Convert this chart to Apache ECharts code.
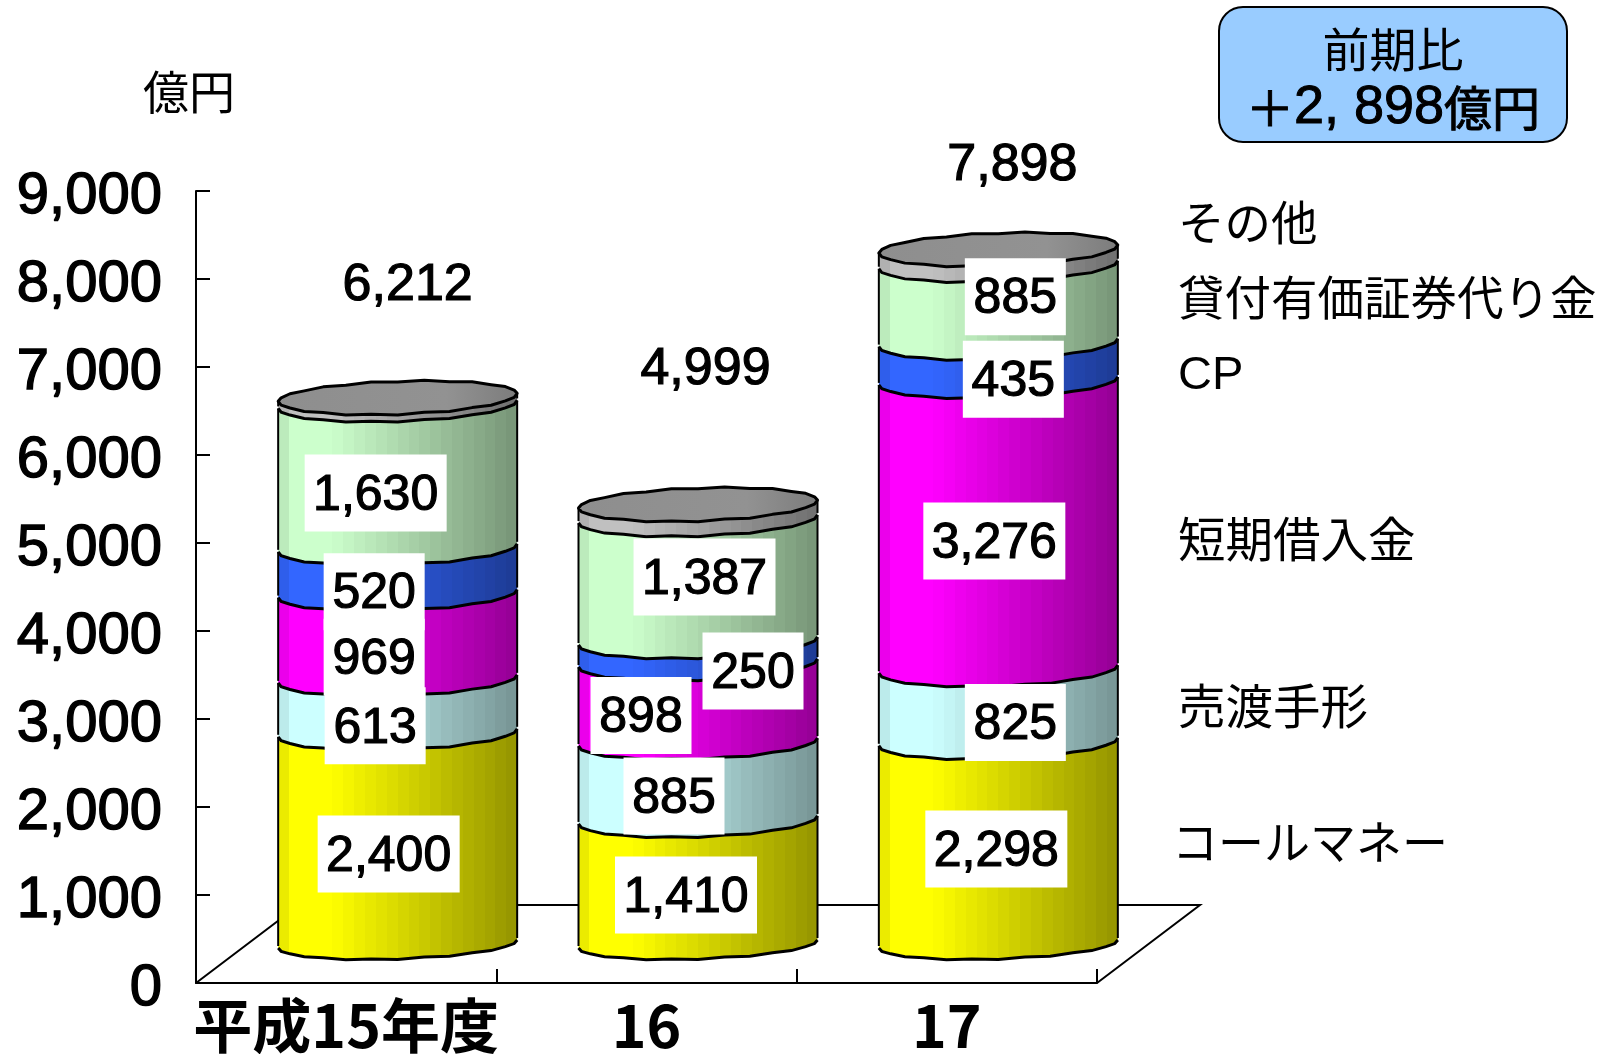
<!DOCTYPE html>
<html>
<head>
<meta charset="utf-8">
<style>html,body{margin:0;padding:0;background:#fff}#c{width:1607px;height:1054px}</style>
<script src="https://cdn.jsdelivr.net/npm/echarts@6/dist/echarts.min.js"></script>
</head>
<body>
<div id="c"></div>
<script>
// ---- data ----
const categories = ['平成15年度', '16', '17'];
const valueTicks = ['0', '1,000', '2,000', '3,000', '4,000', '5,000', '6,000', '7,000', '8,000', '9,000'];
const seriesNames = ['コールマネー', '売渡手形', '短期借入金', 'CP', '貸付有価証券代り金', 'その他'];
const callMoney = [2400, 1410, 2298];
const billsSold = [613, 885, 825];
const shortLoans = [969, 898, 3276];
const commercialPaper = [520, 250, 435];
const securitiesLent = [1630, 1387, 885];
const others = [80, 169, 179];
const totals = [6212, 4999, 7898];
const unitLabel = '億円';
const calloutTitle = '前期比';
const calloutSign = '＋';
const calloutAmount = '2, 898';
const calloutUnit = '億円';

// ---- layout & style (not data) ----
const layers = [callMoney, billsSold, shortLoans, commercialPaper, securitiesLent, others];
const layerColors = [[255,255,0],[204,255,255],[255,0,255],[51,102,255],[204,255,204],[192,192,192]];
const GRID = {left:196, top:191, width:901, height:792, outerBoundsMode: 'none'};
const DEPTH_X = 51.5, DEPTH_Y = -39, RADIUS = 119.5, RIM_H = 17, RIM_TILT = 4;
const SANS = '"Liberation Sans",Arial,sans-serif';
const CJK = '"Noto Sans CJK JP",sans-serif';
// label shift from the middle of each segment, per [layer][category]
const labelShift = [
  [[-9,15.6],[-12,13],[-2,6]],
  [[-22.5,20],[-24,15],[17,17]],
  [[-23.5,21],[-57,13],[-4,16]],
  [[-23.5,21],[55,19],[15,17.5]],
  [[-22,17],[6.5,-3],[17,-7]]
];
const totalShift = [[10,-112],[7.5,-134],[14,-83]];
const legendY = [842, 706, 539, 376, 297, 222];
const legendX = [1172, 1178, 1178, 1178, 1178, 1178];
const legendFont = [
  '46px ' + CJK, '47.5px ' + CJK, '47.5px ' + CJK, '47px ' + SANS, '46.5px ' + CJK, '46.5px ' + CJK
];

const RIM_STEPS = 14;
function rimPoint(cx, cy, th, side, squash){
  const ripple = 1 + 0.04 * (Math.round(th / Math.PI * RIM_STEPS) % 2 ? 1 : -1) * (side > 0 ? 1 : -1);
  const t = -Math.cos(th);
  return [cx + RADIUS * t, cy + side * RIM_H * squash * Math.sin(th) * ripple - RIM_TILT * t];
}
function frontArc(cx, cy, squash){
  const p = [];
  for (let i = 0; i <= RIM_STEPS; i++) p.push(rimPoint(cx, cy, Math.PI * i / RIM_STEPS, 1, squash || 1));
  return p;
}
function backArc(cx, cy){
  const p = [];
  for (let i = RIM_STEPS; i >= 0; i--) p.push(rimPoint(cx, cy, Math.PI * i / RIM_STEPS, -1, 0.94));
  return p;
}
function shade(u){
  if (u < 0.05) return 0.92;
  if (u < 0.22) return 1;
  return 1 - 0.42 * (u - 0.22) / 0.78;
}
function facetGradient(rgb){
  const n = 22, stops = [];
  for (let i = 0; i < n; i++){
    const f = shade((i + 0.5) / n);
    const col = 'rgb(' + rgb.map(c => Math.round(c * f)).join(',') + ')';
    stops.push({offset: i / n, color: col}, {offset: (i + 1) / n, color: col});
  }
  return new echarts.graphic.LinearGradient(0, 0, 1, 0, stops);
}
function stackStart(layer, cat){
  let s = 0;
  for (let i = 0; i < layer; i++) s += layers[i][cat];
  return s;
}

const series = [];
// floor
series.push({
  type: 'custom', coordinateSystem: 'cartesian2d', silent: true, z: 1,
  data: [[0, 0]],
  renderItem(params){
    const cs = params.coordSys;
    const x0 = cs.x, x1 = cs.x + cs.width, y = cs.y + cs.height;
    return {type: 'polyline', shape: {points: [[x0, y], [x0 + 2 * DEPTH_X, y + 2 * DEPTH_Y], [x1 + 2 * DEPTH_X, y + 2 * DEPTH_Y], [x1, y]]},
      style: {fill: 'none', stroke: '#000', lineWidth: 2}};
  }
});
// cylinder layers
layers.forEach((values, li) => {
  series.push({
    type: 'custom', name: seriesNames[li], coordinateSystem: 'cartesian2d', silent: true, z: 2 + li,
    data: values.map((v, c) => [c, stackStart(li, c), stackStart(li, c) + v]),
    encode: {x: 0, y: [1, 2]},
    renderItem(params, api){
      const c = api.value(0);
      const a = api.coord([c, api.value(1)]);
      const b = api.coord([c, api.value(2)]);
      const cx = a[0] + DEPTH_X, ya = a[1] + DEPTH_Y, yb = b[1] + DEPTH_Y;
      const lower = frontArc(cx, ya, li === 0 ? 0.88 : 1), upper = frontArc(cx, yb);
      const children = [
        {type: 'polygon', shape: {points: upper.concat(lower.slice().reverse())},
          style: {fill: facetGradient(layerColors[li]), stroke: null}},
        {type: 'polyline', shape: {points: lower}, style: {fill: 'none', stroke: '#000', lineWidth: 3}},
        {type: 'line', shape: {x1: cx - RADIUS, y1: lower[0][1] - 2, x2: cx - RADIUS, y2: upper[0][1]}, style: {stroke: '#000', lineWidth: 2}},
        {type: 'line', shape: {x1: cx + RADIUS, y1: lower[RIM_STEPS][1] - 2, x2: cx + RADIUS, y2: upper[RIM_STEPS][1]}, style: {stroke: '#000', lineWidth: 2}}
      ];
      if (li === layers.length - 1){
        const cap = upper.concat(backArc(cx, yb));
        children.push({type: 'polygon', shape: {points: cap},
          style: {fill: new echarts.graphic.LinearGradient(0, 0, 1, 0, [{offset: 0, color: '#8e8e8e'}, {offset: 0.7, color: '#929292'}, {offset: 1, color: '#7c7c7c'}]),
            stroke: '#000', lineWidth: 3, lineJoin: 'round'}});
      }
      return {type: 'group', children};
    }
  });
});
// value labels with white boxes, on top of all cylinders
layers.slice(0, 5).forEach((values, li) => {
  series.push({
    type: 'custom', coordinateSystem: 'cartesian2d', silent: true, z: 20,
    data: values.map((v, c) => [c, stackStart(li, c) + v / 2, v]),
    encode: {x: 0, y: 1},
    renderItem(params, api){
      const c = api.value(0), v = api.value(2);
      const m = api.coord([c, api.value(1)]);
      const s = labelShift[li][c];
      const x = m[0] + DEPTH_X + s[0], y = m[1] + DEPTH_Y + s[1];
      const txt = v.toLocaleString('en-US');
      const w = txt.length > 3 ? 142 : 101, h = 77;
      return {type: 'group', children: [
        {type: 'rect', shape: {x: x - w / 2, y: y - h / 2, width: w, height: h}, style: {fill: '#fff'}},
        {type: 'text', style: {x, y: y + 3, text: txt, align: 'center', verticalAlign: 'middle', fill: '#000',
          font: '50px ' + SANS, stroke: '#000', lineWidth: 1.2}}
      ]};
    }
  });
});
// totals above each cylinder
series.push({
  type: 'custom', coordinateSystem: 'cartesian2d', silent: true, z: 21,
  data: totals.map((v, c) => [c, v]),
  encode: {x: 0, y: 1},
  renderItem(params, api){
    const c = api.value(0), v = api.value(1);
    const m = api.coord([c, v]);
    const s = totalShift[c];
    return {type: 'text', style: {x: m[0] + DEPTH_X + s[0], y: m[1] + DEPTH_Y + s[1], text: v.toLocaleString('en-US'),
      align: 'center', verticalAlign: 'middle', fill: '#000', font: '52px ' + SANS, stroke: '#000', lineWidth: 1.2}};
  }
});

const graphic = [
  {type: 'text', left: 143, top: 69, z: 30, style: {text: unitLabel, font: '46px ' + CJK, fill: '#000'}},
  {type: 'rect', z: 30, left: 1218, top: 6, shape: {width: 348, height: 135, r: 24}, style: {fill: '#99CCFF', stroke: '#000', lineWidth: 2}},
  {type: 'text', z: 31, x: 1393, y: 49, style: {text: calloutTitle, align: 'center', verticalAlign: 'middle', font: '47px ' + CJK, fill: '#000'}},
  {type: 'text', z: 31, x: 1393, y: 108, style: {
    text: '{a|' + calloutSign + '}{b|' + calloutAmount + '}{a|' + calloutUnit + '}',
    align: 'center', verticalAlign: 'middle',
    rich: {
      a: {fontFamily: CJK, fontSize: 48, fill: '#000', stroke: '#000', lineWidth: 1},
      b: {fontFamily: SANS, fontSize: 54, fill: '#000', stroke: '#000', lineWidth: 1}
    }
  }}
];
seriesNames.forEach((n, i) => {
  graphic.push({type: 'text', z: 30, x: legendX[i], y: legendY[i], style: {text: n, align: 'left', verticalAlign: 'middle', font: legendFont[i], fill: '#000'}});
});

const chart = echarts.init(document.getElementById('c'), null, {renderer: 'canvas', width: 1607, height: 1054});
chart.setOption({
  animation: false,
  backgroundColor: '#fff',
  grid: Object.assign({containLabel: false}, GRID),
  xAxis: {
    type: 'category', data: categories, boundaryGap: true,
    axisLine: {lineStyle: {color: '#000', width: 2}},
    axisTick: {show: true, inside: true, length: 14, alignWithLabel: false, lineStyle: {color: '#000', width: 2}},
    axisLabel: {color: '#000', fontFamily: CJK, fontWeight: 'bold', fontSize: 59, margin: 13, interval: 0, lineHeight: 59},
    splitLine: {show: false}
  },
  yAxis: {
    type: 'value', min: 0, max: 9000, interval: 1000,
    axisLine: {show: true, lineStyle: {color: '#000', width: 2}},
    axisTick: {show: true, inside: true, length: 14, lineStyle: {color: '#000', width: 2}},
    axisLabel: {margin: 34,
      formatter: v => '{t|' + valueTicks[Math.round(v / 1000)] + '}',
      rich: {t: {color: '#000', fontFamily: SANS, fontSize: 58, textBorderColor: '#000', textBorderWidth: 1.4, padding: [12, 0, 0, 0]}}
    },
    splitLine: {show: false}
  },
  series,
  graphic
});
</script>
</body>
</html>
